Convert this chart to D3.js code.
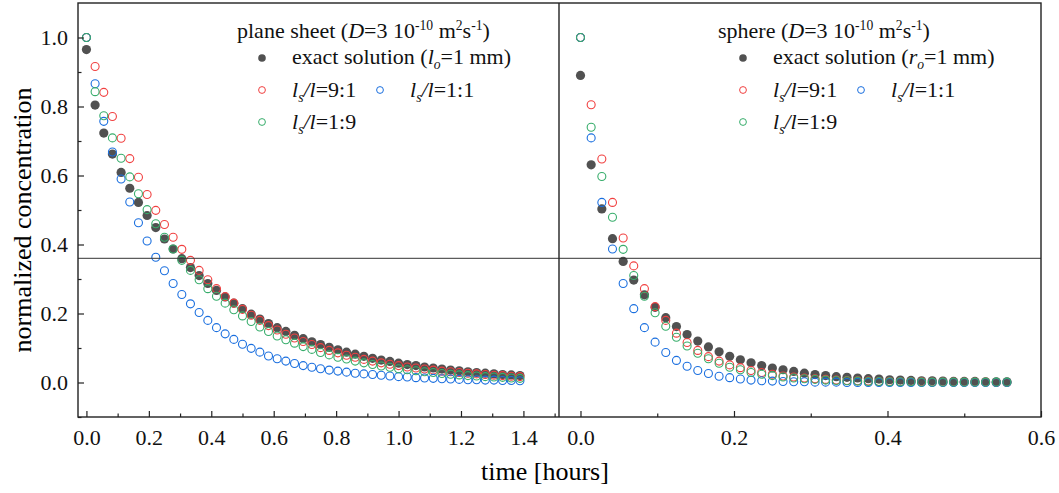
<!DOCTYPE html>
<html>
<head>
<meta charset="utf-8">
<script src="https://cdn.jsdelivr.net/npm/d3@7"></script>
<style>
  body { margin: 0; background: #fff; }
  svg { display: block; font-family: "Liberation Serif", "Times New Roman", serif; }
  .tick text { font-family: "Liberation Serif", "Times New Roman", serif; font-size: 22px; fill: #111; }
</style>
</head>
<body>
<svg id="chart" width="1059" height="493"></svg>
<script>
// plane sheet, sampled every 100 s (hours)
const planeTime = [0, 0.0278, 0.0556, 0.0833, 0.1111, 0.1389, 0.1667, 0.1944, 0.2222, 0.25,
  0.2778, 0.3056, 0.3333, 0.3611, 0.3889, 0.4167, 0.4444, 0.4722, 0.5, 0.5278,
  0.5556, 0.5833, 0.6111, 0.6389, 0.6667, 0.6944, 0.7222, 0.75, 0.7778, 0.8056,
  0.8333, 0.8611, 0.8889, 0.9167, 0.9444, 0.9722, 1.0, 1.0278, 1.0556, 1.0833,
  1.1111, 1.1389, 1.1667, 1.1944, 1.2222, 1.25, 1.2778, 1.3056, 1.3333, 1.3611, 1.3889];
const planeExact = [0.965, 0.804, 0.723, 0.662, 0.609, 0.563, 0.522, 0.484, 0.449, 0.416,
  0.387, 0.359, 0.333, 0.310, 0.287, 0.267, 0.248, 0.230, 0.214, 0.198,
  0.184, 0.171, 0.159, 0.148, 0.137, 0.127, 0.118, 0.110, 0.102, 0.095,
  0.088, 0.082, 0.076, 0.070, 0.065, 0.061, 0.056, 0.052, 0.049, 0.045,
  0.042, 0.039, 0.036, 0.034, 0.031, 0.029, 0.027, 0.025, 0.023, 0.022, 0.020];
const plane91 = [1.000, 0.916, 0.841, 0.771, 0.708, 0.649, 0.595, 0.545, 0.499, 0.458,
  0.421, 0.386, 0.354, 0.325, 0.298, 0.272, 0.249, 0.230, 0.212, 0.195,
  0.180, 0.165, 0.152, 0.140, 0.129, 0.119, 0.110, 0.101, 0.093, 0.086,
  0.079, 0.073, 0.067, 0.062, 0.057, 0.053, 0.049, 0.045, 0.042, 0.039,
  0.036, 0.033, 0.031, 0.029, 0.027, 0.025, 0.023, 0.021, 0.020, 0.018, 0.017];
const plane11 = [1.000, 0.866, 0.757, 0.668, 0.590, 0.523, 0.463, 0.410, 0.363, 0.324,
  0.287, 0.255, 0.228, 0.203, 0.180, 0.159, 0.141, 0.125, 0.111, 0.099,
  0.088, 0.077, 0.069, 0.062, 0.055, 0.049, 0.044, 0.040, 0.036, 0.033,
  0.030, 0.027, 0.025, 0.023, 0.021, 0.019, 0.017, 0.016, 0.014, 0.013,
  0.012, 0.011, 0.010, 0.009, 0.008, 0.008, 0.007, 0.007, 0.006, 0.006, 0.005];
const plane19 = [1.000, 0.843, 0.773, 0.709, 0.650, 0.596, 0.547, 0.501, 0.460, 0.421,
  0.387, 0.354, 0.325, 0.298, 0.272, 0.250, 0.230, 0.211, 0.193, 0.177,
  0.161, 0.148, 0.135, 0.124, 0.114, 0.104, 0.096, 0.087, 0.080, 0.073,
  0.068, 0.062, 0.057, 0.052, 0.048, 0.044, 0.040, 0.037, 0.034, 0.031,
  0.029, 0.026, 0.024, 0.022, 0.020, 0.019, 0.017, 0.016, 0.015, 0.013, 0.012];

// sphere, sampled every 50 s (hours)
const sphereTime = [0, 0.0139, 0.0278, 0.0417, 0.0556, 0.0694, 0.0833, 0.0972, 0.1111, 0.125,
  0.1389, 0.1528, 0.1667, 0.1806, 0.1944, 0.2083, 0.2222, 0.2361, 0.25, 0.2639,
  0.2778, 0.2917, 0.3056, 0.3194, 0.3333, 0.3472, 0.3611, 0.375, 0.3889, 0.4028,
  0.4167, 0.4306, 0.4444, 0.4583, 0.4722, 0.4861, 0.5, 0.5139, 0.5278, 0.5417, 0.5556];
const sphereExact = [0.890, 0.631, 0.503, 0.417, 0.351, 0.297, 0.254, 0.218, 0.188, 0.162,
  0.139, 0.120, 0.103, 0.089, 0.076, 0.066, 0.057, 0.049, 0.042, 0.037,
  0.032, 0.027, 0.023, 0.020, 0.017, 0.015, 0.013, 0.011, 0.010, 0.008,
  0.007, 0.006, 0.005, 0.005, 0.004, 0.003, 0.003, 0.003, 0.002, 0.002, 0.002];
const sphere91 = [1.000, 0.805, 0.648, 0.522, 0.419, 0.338, 0.272, 0.220, 0.180, 0.143,
  0.116, 0.093, 0.075, 0.062, 0.051, 0.043, 0.035, 0.029, 0.024, 0.019,
  0.016, 0.013, 0.011, 0.009, 0.007, 0.006, 0.005, 0.004, 0.003, 0.003,
  0.002, 0.002, 0.002, 0.001, 0.001, 0.001, 0.001, 0.001, 0.001, 0.000, 0.000];
const sphere11 = [1.000, 0.709, 0.522, 0.387, 0.287, 0.214, 0.159, 0.117, 0.087, 0.064,
  0.047, 0.035, 0.026, 0.018, 0.014, 0.010, 0.007, 0.005, 0.004, 0.003,
  0.002, 0.002, 0.001, 0.001, 0.001, 0, 0, 0, 0, 0,
  0, 0, 0, 0, 0, 0, 0, 0, 0, 0, 0];
const sphere19 = [1.000, 0.740, 0.597, 0.479, 0.386, 0.310, 0.250, 0.202, 0.163, 0.131,
  0.106, 0.085, 0.069, 0.056, 0.044, 0.037, 0.029, 0.024, 0.020, 0.016,
  0.013, 0.011, 0.009, 0.007, 0.006, 0.005, 0.004, 0.003, 0.003, 0.002,
  0.002, 0.002, 0.001, 0.001, 0.001, 0.001, 0.001, 0.001, 0.001, 0.001, 0.001];

const refLevel = 0.36;
const yTicks = [0, 0.2, 0.4, 0.6, 0.8, 1.0];
const planeTicks = [0, 0.2, 0.4, 0.6, 0.8, 1.0, 1.2, 1.4];
const sphereTicks = [0, 0.2, 0.4, 0.6];

const colors = { exact: '#515151', r91: '#F14040', r11: '#1A6FDF', r19: '#37AD6B' };
const serif = '"Liberation Serif", "Times New Roman", serif';

const svg = d3.select('#chart');
const frameTop = 3, frameBottom = 417, frameLeft = 78, frameMid = 559, frameRight = 1041;

const y = d3.scaleLinear().domain([-0.1, 1.1]).range([frameBottom, frameTop]);
const xPlane = d3.scaleLinear().domain([-0.027, 1.514]).range([frameLeft, frameMid]);
const xSphere = d3.scaleLinear().domain([-0.028, 0.6]).range([frameMid, frameRight]);

// d3 axes set a sans-serif font on their group, switch it back
function cleanAxis(a) {
  a.attr('font-family', serif).attr('font-size', 22);
  a.select('.domain').remove();
}

function drawPanel(x, time, series, ticks, minor) {
  const g = svg.append('g');
  g.append('g')
    .attr('transform', `translate(0,${frameBottom})`)
    .call(d3.axisBottom(x).tickValues(ticks).tickFormat(d3.format('.1f')).tickSizeInner(-6).tickSizeOuter(0).tickPadding(12))
    .call(cleanAxis);
  g.append('g')
    .attr('transform', `translate(0,${frameBottom})`)
    .call(d3.axisBottom(x).tickValues(minor).tickFormat('').tickSizeInner(-3.5).tickSizeOuter(0))
    .call(cleanAxis);

  series.forEach(s => {
    g.append('g').selectAll('circle')
      .data(time.map((t, i) => [t, s.values[i]]))
      .join('circle')
      .attr('cx', d => x(d[0]))
      .attr('cy', d => y(d[1]))
      .attr('r', s.filled ? 4.6 : 4)
      .attr('fill', s.filled ? s.color : 'none')
      .attr('stroke', s.filled ? 'none' : s.color)
      .attr('stroke-width', 1.1);
  });
}

drawPanel(xPlane, planeTime, [
  { values: planeExact, color: colors.exact, filled: true },
  { values: plane91, color: colors.r91 },
  { values: plane11, color: colors.r11 },
  { values: plane19, color: colors.r19 }
], planeTicks, [0.1, 0.3, 0.5, 0.7, 0.9, 1.1, 1.3, 1.5]);

drawPanel(xSphere, sphereTime, [
  { values: sphereExact, color: colors.exact, filled: true },
  { values: sphere91, color: colors.r91 },
  { values: sphere11, color: colors.r11 },
  { values: sphere19, color: colors.r19 }
], sphereTicks, [0.1, 0.3, 0.5]);

// y axis on the left panel
svg.append('g')
  .attr('transform', `translate(${frameLeft},0)`)
  .call(d3.axisLeft(y).tickValues(yTicks).tickFormat(d3.format('.1f')).tickSizeInner(-6).tickSizeOuter(0).tickPadding(10))
  .call(cleanAxis);
svg.append('g')
  .attr('transform', `translate(${frameLeft},0)`)
  .call(d3.axisLeft(y).tickValues([-0.1, 0.1, 0.3, 0.5, 0.7, 0.9]).tickFormat('').tickSizeInner(-3.5).tickSizeOuter(0))
  .call(cleanAxis);
svg.selectAll('.tick line').attr('stroke', '#222').attr('stroke-width', 1.2);

// reference line and frame
svg.append('line')
  .attr('x1', frameLeft).attr('x2', frameRight)
  .attr('y1', y(refLevel)).attr('y2', y(refLevel))
  .attr('stroke', '#333').attr('stroke-width', 1);
svg.append('rect')
  .attr('x', frameLeft).attr('y', frameTop)
  .attr('width', frameRight - frameLeft).attr('height', frameBottom - frameTop)
  .attr('fill', 'none').attr('stroke', '#222').attr('stroke-width', 1.4);
svg.append('line')
  .attr('x1', frameMid).attr('x2', frameMid).attr('y1', frameTop).attr('y2', frameBottom)
  .attr('stroke', '#222').attr('stroke-width', 1.4);

// axis titles
svg.append('text')
  .attr('x', 545).attr('y', 480)
  .attr('text-anchor', 'middle')
  .attr('font-size', 26)
  .text('time [hours]');
svg.append('text')
  .attr('transform', 'translate(31,220) rotate(-90)')
  .attr('text-anchor', 'middle')
  .attr('font-size', 26)
  .text('normalized concentration');

// rich text: parts are [text, flags] with flags i (italic), sub, sup
function rich(x, yy, parts, size) {
  const t = svg.append('text').attr('x', x).attr('y', yy).attr('font-size', size).attr('fill', '#111');
  let shift = 0;
  parts.forEach(([txt, f = '']) => {
    let target = 0;
    if (f.includes('sub')) target = 5;
    if (f.includes('sup')) target = -8;
    const ts = t.append('tspan').text(txt).attr('dy', target - shift);
    shift = target;
    if (f.includes('i')) ts.attr('font-style', 'italic');
    if (target !== 0) ts.attr('font-size', size * 0.62);
  });
  return t;
}

function legend(x0, title, exactLabel) {
  const fs = 22;
  const symX = x0 + 25, txtX = x0 + 55, sym2X = x0 + 143, txt2X = x0 + 173;
  rich(x0, 38, title, fs);
  const rows = [
    { sx: symX, tx: txtX, cy: 58, by: 64, color: colors.exact, filled: true, parts: exactLabel },
    { sx: symX, tx: txtX, cy: 90, by: 97, color: colors.r91, parts: [['l', 'i'], ['s', 'i sub'], ['/l', 'i'], ['=9:1']] },
    { sx: sym2X, tx: txt2X, cy: 90, by: 97, color: colors.r11, parts: [['l', 'i'], ['s', 'i sub'], ['/l', 'i'], ['=1:1']] },
    { sx: symX, tx: txtX, cy: 122, by: 129, color: colors.r19, parts: [['l', 'i'], ['s', 'i sub'], ['/l', 'i'], ['=1:9']] }
  ];
  rows.forEach(r => {
    svg.append('circle')
      .attr('cx', r.sx).attr('cy', r.cy)
      .attr('r', r.filled ? 3.8 : 3.4)
      .attr('fill', r.filled ? r.color : 'none')
      .attr('stroke', r.filled ? 'none' : r.color)
      .attr('stroke-width', 1);
    rich(r.tx, r.by, r.parts, fs);
  });
}

legend(237,
  [['plane sheet ('], ['D', 'i'], ['=3 10'], ['-10', 'sup'], [' m'], ['2', 'sup'], ['s'], ['-1', 'sup'], [')']],
  [['exact solution ('], ['l', 'i'], ['o', 'i sub'], ['=1 mm)']]);
legend(718,
  [['sphere ('], ['D', 'i'], ['=3 10'], ['-10', 'sup'], [' m'], ['2', 'sup'], ['s'], ['-1', 'sup'], [')']],
  [['exact solution ('], ['r', 'i'], ['o', 'i sub'], ['=1 mm)']]);
</script>
</body>
</html>
